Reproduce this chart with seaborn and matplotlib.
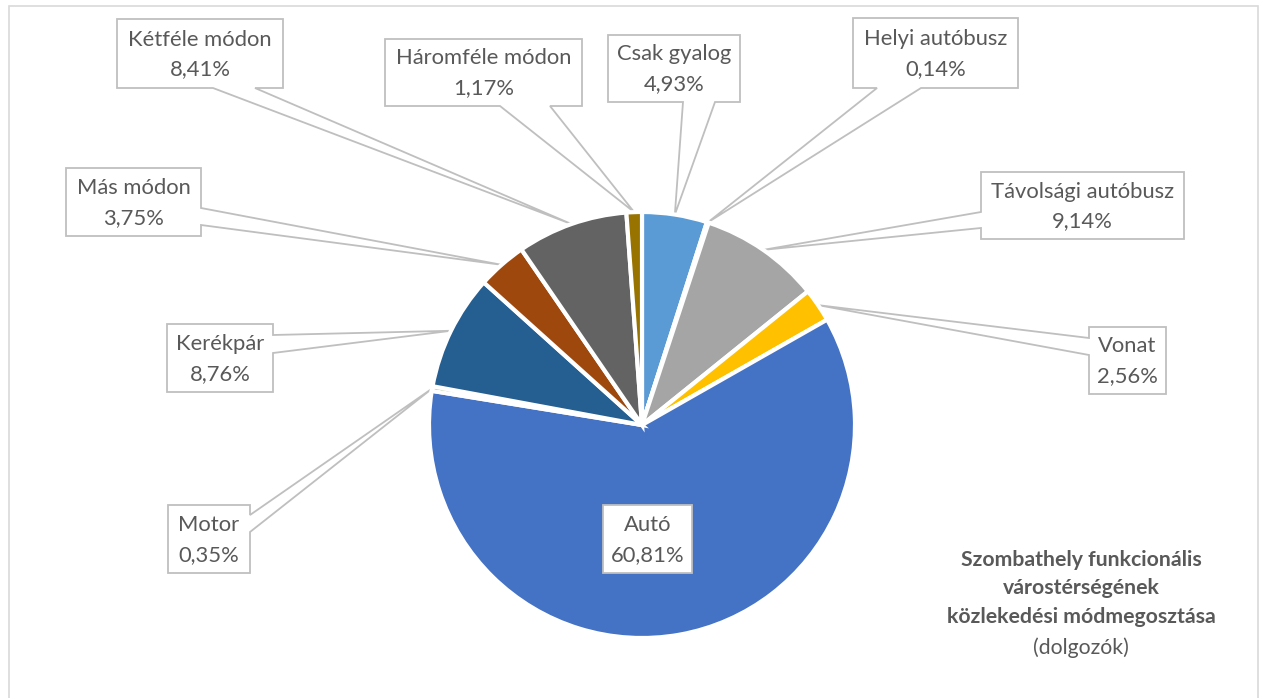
import numpy as np
import matplotlib.pyplot as plt
import seaborn as sns
from matplotlib.patches import Polygon, Rectangle

# data
categories = ["Csak gyalog", "Helyi autóbusz", "Távolsági autóbusz", "Vonat", "Autó",
              "Motor", "Kerékpár", "Más módon", "Kétféle módon", "Háromféle módon"]
shares = [4.93, 0.14, 9.14, 2.56, 60.81, 0.35, 8.76, 3.75, 8.41, 1.17]
share_labels = ["4,93%", "0,14%", "9,14%", "2,56%", "60,81%",
                "0,35%", "8,76%", "3,75%", "8,41%", "1,17%"]
colors = ["#5B9BD5", "#ED7D31", "#A5A5A5", "#FFC000", "#4472C4",
          "#70AD47", "#255E91", "#9E480E", "#636363", "#997300"]
title_lines = ["Szombathely funkcionális", "várostérségének", "közlekedési módmegosztása"]
title_sub = "(dolgozók)"

# layout (pixels, y down)
W, H = 1264, 698
cx, cy, R = 642, 425, 213
# box x0, y0, x1, y1, pointer side, pointer base start, end
boxes = {
    "Csak gyalog": (608, 35, 740, 102, "bottom", 683, 715),
    "Helyi autóbusz": (853, 18, 1018, 88, "bottom", 877, 921),
    "Távolsági autóbusz": (981, 172, 1184, 239, "left", 212, 228),
    "Vonat": (1089, 327, 1166, 394, "left", 338, 355),
    "Autó": (603, 505, 692, 573, None, 0, 0),
    "Motor": (168, 505, 250, 573, "right", 515, 532),
    "Kerékpár": (167, 324, 273, 392, "right", 335, 353),
    "Más módon": (66, 168, 201, 236, "right", 208, 225),
    "Kétféle módon": (117, 19, 283, 88, "bottom", 213, 255),
    "Háromféle módon": (385, 39, 582, 106, "bottom", 500, 550),
}
title_y = [560, 588, 617]

sns.set_theme(style="white")
plt.rcParams["font.family"] = ["Lato", "DejaVu Sans"]
text_col = "#595959"
line_col = "#BFBFBF"

fig = plt.figure(figsize=(12.64, 6.98), dpi=100)
ax = fig.add_axes([0, 0, 1, 1])
pal = sns.color_palette(colors)
wedges, _ = ax.pie(shares, colors=pal, startangle=90, counterclock=False,
                   center=(cx, H - cy), radius=R,
                   wedgeprops=dict(edgecolor="white", linewidth=3, zorder=2))
ax.set_xlim(0, W)
ax.set_ylim(0, H)
ax.set_aspect("equal")
ax.axis("off")

# callout boxes with pointer to the middle of each wedge
for w, name, lab in zip(wedges, categories, share_labels):
    x0, y0, x1, y1, side, b0, b1 = boxes[name]
    ang = (w.theta1 + w.theta2) / 2
    tx = cx + R * np.cos(np.radians(ang))
    ty = cy - R * np.sin(np.radians(ang))
    pts = [(x0, y0), (x1, y0)]
    if side == "right":
        pts += [(x1, b0), (tx, ty), (x1, b1)]
    pts += [(x1, y1)]
    if side == "bottom":
        pts += [(b1, y1), (tx, ty), (b0, y1)]
    pts += [(x0, y1)]
    if side == "left":
        pts += [(x0, b1), (tx, ty), (x0, b0)]
    pts = [(px, H - py) for px, py in pts]
    z = 5 if side is None else 1
    ax.add_patch(Polygon(pts, closed=True, facecolor="white", edgecolor=line_col,
                         linewidth=1.3, zorder=z))
    mx, my = (x0 + x1) / 2, (y0 + y1) / 2
    ax.text(mx, H - (my - 14), name, ha="center", va="center",
            fontsize=15.8, color=text_col, zorder=6)
    ax.text(mx, H - (my + 16), lab, ha="center", va="center",
            fontsize=15.8, color=text_col, zorder=6)

for line, y in zip(title_lines, title_y):
    ax.text(1081, H - y, line, ha="center", va="center", fontsize=15.3,
            fontweight="bold", color=text_col)
ax.text(1081, H - 648, title_sub, ha="center", va="center", fontsize=15.3, color=text_col)

fig.patches.append(Rectangle((9 / W, -0.1), (1258 - 9) / W, (H - 6) / H + 0.1,
                             transform=fig.transFigure, fill=False,
                             edgecolor="#D9D9D9", linewidth=1.2))

fig.savefig("out.png", dpi=100)
